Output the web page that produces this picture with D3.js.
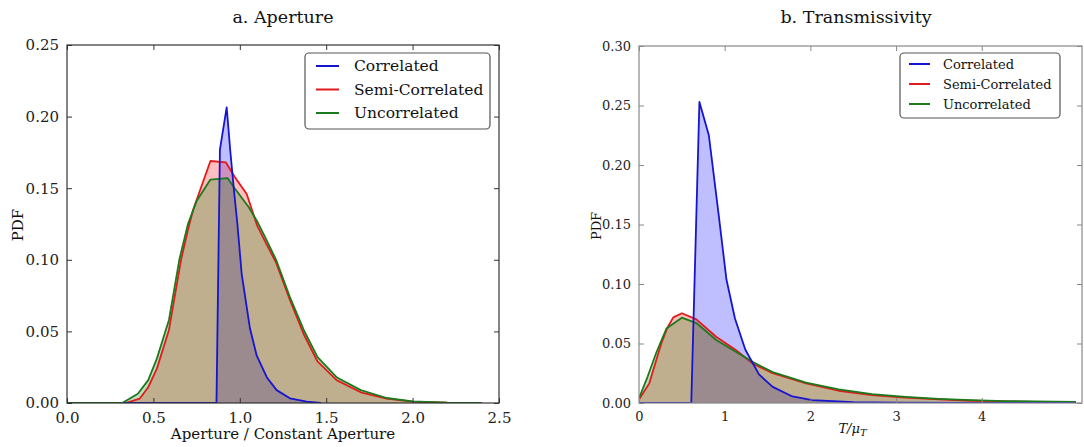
<html>
  <head>
    <meta charset="UTF-8" />
    <script src="https://cdnjs.cloudflare.com/ajax/libs/d3/7.8.5/d3.min.js"></script>
    <style>
      body { margin: 0; background: #fff; }
      text { font-family: "DejaVu Serif", serif; fill: #111; }
    </style>
  </head>
  <body>
    <svg id="viz" width="1084" height="447"></svg>
    <script>
      // ---- a. Aperture (x = aperture / constant aperture) ----
      const apCorrX = [0.33, 0.865, 0.885, 0.924, 0.945, 0.965, 0.986, 1.011, 1.059, 1.098, 1.156, 1.213, 1.29, 1.387, 1.47];
      const apCorrY = [0, 0, 0.177, 0.2065, 0.176, 0.15, 0.125, 0.09, 0.052, 0.033, 0.018, 0.009, 0.0033, 0.001, 0];

      const apSemiX = [0, 0.34, 0.42, 0.47, 0.52, 0.59, 0.66, 0.70, 0.73, 0.83, 0.92, 0.97, 1.04, 1.10, 1.15, 1.21, 1.29, 1.37, 1.45, 1.56, 1.70, 1.85, 2.0, 2.2, 2.4];
      const apSemiY = [0, 0, 0.003, 0.011, 0.024, 0.051, 0.10, 0.121, 0.135, 0.169, 0.168, 0.158, 0.146, 0.124, 0.112, 0.098, 0.072, 0.048, 0.029, 0.016, 0.0075, 0.003, 0.001, 0.0002, 0];

      const apUncX = [0, 0.32, 0.41, 0.47, 0.52, 0.59, 0.65, 0.70, 0.75, 0.83, 0.93, 0.97, 1.05, 1.10, 1.15, 1.21, 1.29, 1.37, 1.45, 1.56, 1.70, 1.85, 2.0, 2.2, 2.4];
      const apUncY = [0, 0, 0.0065, 0.016, 0.031, 0.058, 0.10, 0.125, 0.141, 0.156, 0.157, 0.150, 0.137, 0.127, 0.115, 0.100, 0.074, 0.051, 0.032, 0.018, 0.009, 0.0035, 0.0012, 0.0003, 0];

      // ---- b. Transmissivity (x = T / mu_T) ----
      const trCorrX = [0, 0.61, 0.705, 0.815, 0.93, 1.02, 1.12, 1.24, 1.40, 1.56, 1.79, 2.02, 2.5, 3.0, 4.0, 5.1];
      const trCorrY = [0, 0, 0.253, 0.225, 0.158, 0.104, 0.071, 0.045, 0.024, 0.0135, 0.0055, 0.0025, 0.0008, 0.0003, 0.0001, 0];

      const trSemiX = [0, 0.12, 0.26, 0.33, 0.40, 0.50, 0.67, 0.90, 1.13, 1.33, 1.56, 1.95, 2.33, 2.72, 3.11, 3.5, 3.88, 4.27, 4.85, 5.1];
      const trSemiY = [0.003, 0.0165, 0.050, 0.063, 0.072, 0.0754, 0.0703, 0.0557, 0.0445, 0.033, 0.025, 0.0165, 0.0103, 0.0067, 0.0045, 0.003, 0.0019, 0.0013, 0.0008, 0.0006];

      const trUncX = [0, 0.10, 0.20, 0.32, 0.50, 0.67, 0.90, 1.13, 1.33, 1.56, 1.95, 2.33, 2.72, 3.11, 3.5, 3.88, 4.27, 4.85, 5.1];
      const trUncY = [0.004, 0.022, 0.042, 0.0626, 0.0717, 0.0672, 0.0529, 0.043, 0.0344, 0.026, 0.0171, 0.0115, 0.0075, 0.0052, 0.0035, 0.0024, 0.0016, 0.0011, 0.0009];

      const seriesNames = ["Correlated", "Semi-Correlated", "Uncorrelated"];
      const seriesColors = ["#1515d0", "#e01b1b", "#1b7a1b"];
      const fillColors = ["#0000ff", "#ff0000", "#008000"];

      const apXTicks = [0, 0.5, 1.0, 1.5, 2.0, 2.5];
      const apYTicks = [0, 0.05, 0.10, 0.15, 0.20, 0.25];
      const trXTicks = [0, 1, 2, 3, 4];
      const trYTicks = [0, 0.05, 0.10, 0.15, 0.20, 0.25, 0.30];

      const zip = (xs, ys) => xs.map((x, i) => ({ x: x, y: ys[i] }));

      const svg = d3.select("#viz");

      function panel(cfg) {
        const x = d3.scaleLinear().domain(cfg.xDomain).range([cfg.left, cfg.right]);
        const y = d3.scaleLinear().domain(cfg.yDomain).range([cfg.bottom, cfg.top]);
        const g = svg.append("g");

        const clipId = "clip" + cfg.id;
        g.append("clipPath").attr("id", clipId)
          .append("rect")
          .attr("x", cfg.left).attr("y", cfg.top)
          .attr("width", cfg.right - cfg.left).attr("height", cfg.bottom - cfg.top);

        const plot = g.append("g").attr("clip-path", `url(#${clipId})`);
        const area = d3.area().x(d => x(d.x)).y0(y(0)).y1(d => y(d.y));
        const line = d3.line().x(d => x(d.x)).y(d => y(d.y));

        // fills: correlated, semi, uncorrelated
        cfg.series.forEach((s, i) => {
          plot.append("path")
            .attr("d", area(s))
            .style("fill", fillColors[i])
            .style("fill-opacity", 0.25)
            .style("stroke", "none");
        });
        // lines: semi, uncorrelated, then correlated on top
        [1, 2, 0].forEach(i => {
          plot.append("path")
            .attr("d", line(cfg.series[i]))
            .style("fill", "none")
            .style("stroke", seriesColors[i])
            .style("stroke-width", 1.8)
            .style("stroke-linejoin", "round");
        });

        // frame
        g.append("rect")
          .attr("x", cfg.left).attr("y", cfg.top)
          .attr("width", cfg.right - cfg.left).attr("height", cfg.bottom - cfg.top)
          .style("fill", "none").style("stroke", cfg.frame).style("stroke-width", 1.2);

        // inward ticks on all four sides
        const tl = 5;
        const ax = [
          d3.axisBottom(x).tickValues(cfg.xTicks).tickSizeInner(-tl).tickSizeOuter(0).tickPadding(tl + 4).tickFormat(cfg.xFmt),
          d3.axisTop(x).tickValues(cfg.xTicks).tickSizeInner(-tl).tickSizeOuter(0).tickFormat(""),
          d3.axisLeft(y).tickValues(cfg.yTicks).tickSizeInner(-tl).tickSizeOuter(0).tickPadding(tl + 3).tickFormat(d3.format(".2f")),
          d3.axisRight(y).tickValues(cfg.yTicks).tickSizeInner(-tl).tickSizeOuter(0).tickFormat("")
        ];
        const pos = [
          `translate(0,${cfg.bottom})`, `translate(0,${cfg.top})`,
          `translate(${cfg.left},0)`, `translate(${cfg.right},0)`
        ];
        ax.forEach((a, i) => {
          const ag = g.append("g").attr("transform", pos[i]).call(a);
          ag.select(".domain").remove();
          ag.selectAll("line").style("stroke", cfg.frame);
          ag.selectAll("text")
            .style("font-family", "DejaVu Serif")
            .style("font-size", cfg.tickSize + "px")
            .style("fill", "#222");
        });

        // title
        g.append("text")
          .attr("x", cfg.titleX).attr("y", 23)
          .attr("text-anchor", "middle")
          .style("font-size", "17.5px")
          .text(cfg.title);

        // y label
        g.append("text")
          .attr("transform", `translate(${cfg.yLabelX},${cfg.yLabelY}) rotate(-90)`)
          .attr("text-anchor", "middle")
          .style("font-size", cfg.labelSize + "px")
          .text("PDF");

        // x label
        const xl = g.append("text")
          .attr("x", (cfg.left + cfg.xLabelRight) / 2).attr("y", cfg.xLabelY)
          .attr("text-anchor", "middle")
          .style("font-size", cfg.labelSize + "px");
        cfg.xLabel(xl);

        // legend
        const L = cfg.legend;
        const lg = g.append("g");
        lg.append("rect")
          .attr("x", L.x).attr("y", L.y).attr("width", L.w).attr("height", L.h)
          .attr("rx", 4)
          .style("fill", "#fff").style("stroke", "#555").style("stroke-width", 1.2);
        seriesNames.forEach((name, i) => {
          const yy = L.y + L.first + i * L.step;
          lg.append("line")
            .attr("x1", L.x + L.pad).attr("x2", L.x + L.pad + L.len)
            .attr("y1", yy).attr("y2", yy)
            .style("stroke", seriesColors[i]).style("stroke-width", 2);
          lg.append("text")
            .attr("x", L.x + L.textOff).attr("y", yy)
            .attr("dy", "0.35em")
            .style("font-size", L.font + "px")
            .text(name);
        });
      }

      panel({
        id: "a",
        left: 67, right: 499, top: 45, bottom: 403,
        xDomain: [0, 2.5], yDomain: [0, 0.25],
        xTicks: apXTicks, yTicks: apYTicks,
        xFmt: d3.format(".1f"),
        frame: "#333",
        tickSize: 15, labelSize: 15,
        series: [zip(apCorrX, apCorrY), zip(apSemiX, apSemiY), zip(apUncX, apUncY)],
        title: "a. Aperture", titleX: 283,
        yLabelX: 23, yLabelY: 225,
        xLabelRight: 499, xLabelY: 439,
        xLabel: t => t.text("Aperture / Constant Aperture"),
        legend: { x: 305, y: 53, w: 185, h: 76, first: 13, step: 23.5, pad: 11, len: 23, textOff: 49, font: 15.5 }
      });

      panel({
        id: "b",
        left: 639, right: 1082, top: 46, bottom: 403,
        xDomain: [0, 5.17], yDomain: [0, 0.30],
        xTicks: trXTicks, yTicks: trYTicks,
        xFmt: d3.format("d"),
        frame: "#888",
        tickSize: 13, labelSize: 13,
        series: [zip(trCorrX, trCorrY), zip(trSemiX, trSemiY), zip(trUncX, trUncY)],
        title: "b. Transmissivity", titleX: 856,
        yLabelX: 601, yLabelY: 226,
        xLabelRight: 1066, xLabelY: 433,
        xLabel: t => {
          t.append("tspan").style("font-style", "italic").text("T/\u03bc");
          t.append("tspan").style("font-style", "italic").style("font-size", "10px").attr("dy", 3).text("T");
        },
        legend: { x: 900, y: 53, w: 160, h: 65, first: 11, step: 20, pad: 9, len: 21, textOff: 43, font: 13 }
      });
    </script>
  </body>
</html>
